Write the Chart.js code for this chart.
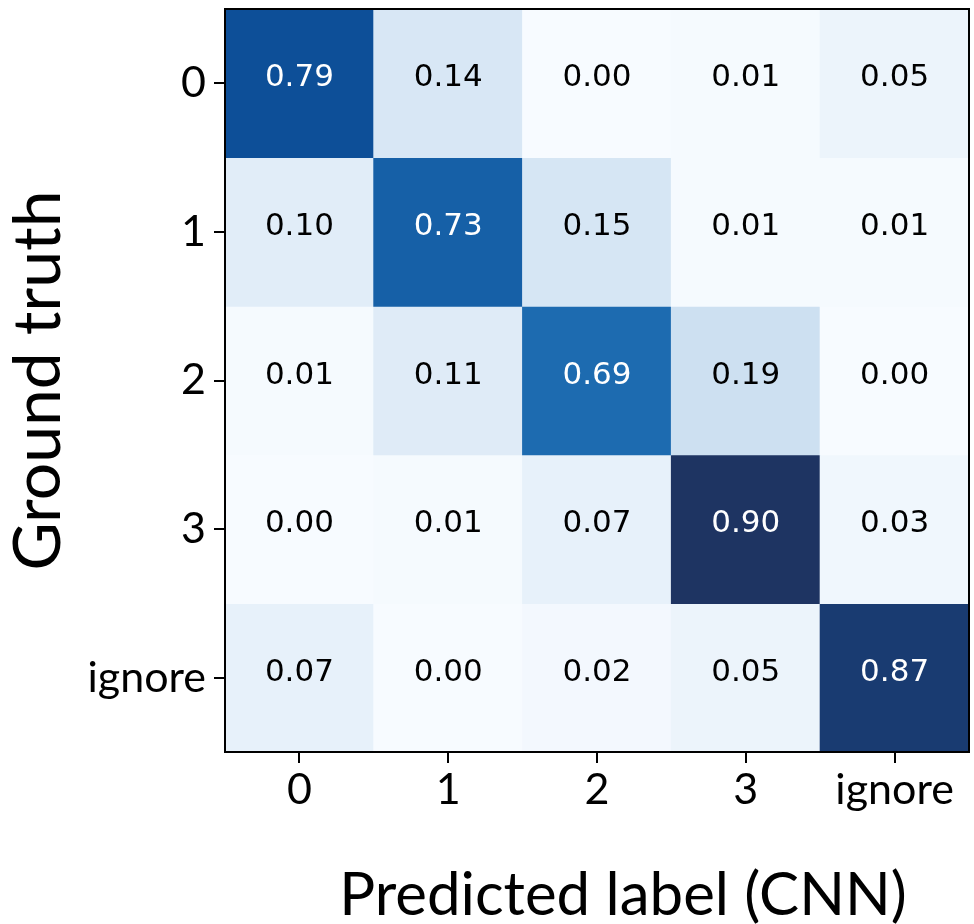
<!DOCTYPE html>
<html>
<head>
<meta charset="utf-8">
<title>Confusion matrix</title>
<script src="https://cdn.jsdelivr.net/npm/chart.js@4/dist/chart.umd.min.js"></script>
<style>
  html, body { margin: 0; padding: 0; background: #fff; }
  #wrap { width: 974px; height: 924px; }
</style>
</head>
<body>
<div id="wrap"><canvas id="cm" width="974" height="924"></canvas></div>
<script>
// labels
const predictedLabels = ['0', '1', '2', '3', 'ignore'];
const truthLabels = ['0', '1', '2', '3', 'ignore'];
const xTitle = 'Predicted label (CNN)';
const yTitle = 'Ground truth';

// one array per ground-truth row (columns = predicted label)
const truth0 = [0.79, 0.14, 0.00, 0.01, 0.05];
const truth1 = [0.10, 0.73, 0.15, 0.01, 0.01];
const truth2 = [0.01, 0.11, 0.69, 0.19, 0.00];
const truth3 = [0.00, 0.01, 0.07, 0.90, 0.03];
const truthIgnore = [0.07, 0.00, 0.02, 0.05, 0.87];
const rows = [truth0, truth1, truth2, truth3, truthIgnore];

// "Blues"-like colormap, scaled to the max value
const blues = ['#f7fbff', '#deebf7', '#c6dbef', '#9ecae1', '#6baed6',
               '#4292c6', '#1f6fb4', '#0d5099', '#1e3462'];
const vmax = 0.90;

function hexToRgb(h) {
    return [parseInt(h.slice(1, 3), 16), parseInt(h.slice(3, 5), 16), parseInt(h.slice(5, 7), 16)];
}
function cmap(v) {
    let t = Math.max(0, Math.min(1, v / vmax)) * (blues.length - 1);
    let i = Math.min(Math.floor(t), blues.length - 2);
    let f = t - i;
    const a = hexToRgb(blues[i]), b = hexToRgb(blues[i + 1]);
    const c = a.map((x, k) => Math.round(x + (b[k] - x) * f));
    return `rgb(${c[0]},${c[1]},${c[2]})`;
}

// each ground-truth row is a dataset of floating bars spanning [r, r+1]
const datasets = rows.map((vals, r) => ({
    label: truthLabels[r],
    data: vals.map(() => [r, r + 1]),
    values: vals,
    backgroundColor: vals.map(cmap),
    borderWidth: 0,
    barPercentage: 1,
    categoryPercentage: 1,
    grouped: false,
    inflateAmount: 0.5
}));

// write the value in every cell
const cellText = {
    id: 'cellText',
    afterDatasetsDraw(chart) {
        const ctx = chart.ctx;
        ctx.save();
        ctx.font = '31px "DejaVu Sans"';
        ctx.textAlign = 'center';
        ctx.textBaseline = 'middle';
        chart.data.datasets.forEach((ds, i) => {
            chart.getDatasetMeta(i).data.forEach((el, j) => {
                const v = ds.values[j];
                const p = el.getCenterPoint();
                ctx.fillStyle = v > vmax / 2 ? '#ffffff' : '#000000';
                ctx.fillText(v.toFixed(2), p.x, p.y - 5);
            });
        });
        ctx.restore();
    }
};

// black frame round the plot area + x axis title (sits a bit right of centre)
const frame = {
    id: 'frame',
    afterDraw(chart) {
        const a = chart.chartArea, ctx = chart.ctx;
        ctx.save();
        ctx.strokeStyle = '#000';
        ctx.lineWidth = 2;
        ctx.strokeRect(a.left, a.top, a.right - a.left, a.bottom - a.top);
        ctx.fillStyle = '#000';
        ctx.font = '60px Lato';
        ctx.textAlign = 'center';
        ctx.textBaseline = 'alphabetic';
        ctx.fillText(xTitle, (a.left + a.right) / 2 + 26, chart.height - 9);
        ctx.restore();
    }
};

const tickFont = { family: 'Lato', size: 43 };

new Chart(document.getElementById('cm').getContext('2d'), {
    type: 'bar',
    data: { labels: predictedLabels, datasets: datasets },
    options: {
        responsive: false,
        animation: false,
        layout: { padding: { top: 9, right: 5, left: 0, bottom: 0 } },
        plugins: { legend: { display: false }, tooltip: { enabled: false } },
        scales: {
            x: {
                offset: true,
                grid: { offset: false, drawOnChartArea: false, drawTicks: true, tickLength: 11, color: '#000', lineWidth: 2 },
                border: { display: false },
                ticks: { color: '#000', font: tickFont, padding: 1, maxRotation: 0 },
                afterFit(scale) { scale.height = 172; }
            },
            y: {
                type: 'linear',
                min: 0,
                max: 5,
                reverse: true,
                afterBuildTicks(scale) {
                    scale.ticks = truthLabels.map((_, i) => ({ value: i + 0.5 }));
                },
                grid: { drawOnChartArea: false, drawTicks: true, tickLength: 11, color: '#000', lineWidth: 2 },
                border: { display: false },
                ticks: {
                    color: '#000',
                    font: tickFont,
                    padding: 8,
                    callback: (v) => truthLabels[Math.floor(v)]
                },
                title: {
                    display: true, text: yTitle, color: '#000',
                    font: { family: 'Lato', size: 66, lineHeight: 1.05 }, padding: { top: 4, bottom: 4 }
                },
                afterFit(scale) {
                    scale.width = 225;
                    scale.paddingTop = 0;
                    scale.paddingBottom = 0;
                }
            }
        }
    },
    plugins: [cellText, frame]
});
</script>
</body>
</html>
